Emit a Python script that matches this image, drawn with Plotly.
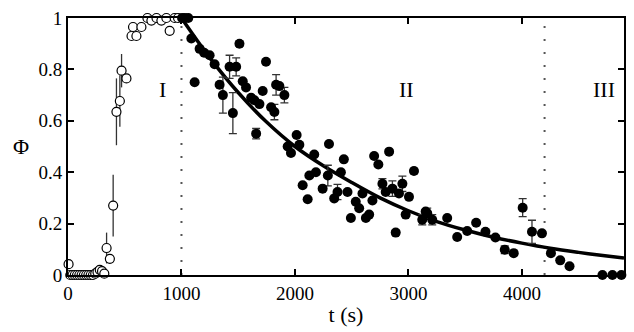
import plotly.graph_objects as go

# ---- data ----
open_t = [5, 20, 40, 60, 80, 100, 120, 140, 160, 180, 200, 220, 240, 260, 280, 300, 320,
          340, 369, 398, 427, 457, 472, 515, 560, 573, 603, 647, 700, 735, 780, 823, 867, 896, 940, 970]
open_phi = [0.042, 0.0, 0.0, 0.0, 0.0, 0.0, 0.0, 0.0, 0.0, 0.0, 0.0, 0.0, 0.005, 0.012, 0.02, 0.015, 0.005,
            0.105, 0.063, 0.27, 0.635, 0.677, 0.795, 0.765, 0.93, 0.965, 0.93, 0.965, 1.0, 0.99, 1.0, 0.99, 1.0, 0.95, 1.0, 1.0]
open_err = [0, 0, 0, 0, 0, 0, 0, 0, 0, 0, 0, 0, 0, 0, 0, 0, 0,
            0.06, 0, 0.12, 0.13, 0.10, 0.065, 0, 0, 0, 0, 0, 0, 0, 0, 0, 0, 0, 0, 0]

fill_t = [1005, 1030, 1060, 1087, 1116, 1160, 1200, 1248, 1292, 1336, 1365, 1424, 1453, 1482, 1511,
          1540, 1569, 1614, 1643, 1658, 1687, 1716, 1745, 1790, 1819, 1834, 1863, 1907, 1936, 1965,
          2015, 2039, 2068, 2112, 2127, 2170, 2185, 2244, 2290, 2300, 2346, 2375, 2405, 2431, 2463,
          2493, 2536, 2566, 2595, 2625, 2654, 2683, 2698, 2735, 2771, 2800, 2830, 2859, 2888, 2917,
          2947, 2976, 3005, 3049, 3122, 3152, 3166, 3210, 3342, 3430, 3518, 3597, 3679, 3767, 3849,
          3928, 4007, 4089, 4177, 4256, 4338, 4420, 4710, 4798, 4877]
fill_phi = [1.0, 1.0, 1.0, 0.92, 0.75, 0.88, 0.865, 0.855, 0.82, 0.74, 0.70, 0.81, 0.63, 0.81, 0.90,
            0.754, 0.73, 0.69, 0.68, 0.55, 0.665, 0.716, 0.83, 0.653, 0.634, 0.74, 0.735, 0.70, 0.50, 0.475,
            0.545, 0.507, 0.349, 0.295, 0.387, 0.469, 0.40, 0.336, 0.387, 0.51, 0.298, 0.323, 0.40, 0.45, 0.323,
            0.222, 0.285, 0.26, 0.317, 0.222, 0.235, 0.29, 0.463, 0.43, 0.355, 0.323, 0.48, 0.336, 0.165, 0.317,
            0.355, 0.235, 0.304, 0.405, 0.215, 0.247, 0.24, 0.215, 0.222, 0.148, 0.171, 0.203, 0.168, 0.146, 0.098,
            0.085, 0.262, 0.168, 0.162, 0.085, 0.057, 0.034, 0.0, 0.0, 0.0]
fill_err = [0, 0, 0, 0, 0, 0, 0, 0, 0, 0, 0.07, 0.045, 0.08, 0.035, 0.01,
            0, 0, 0, 0, 0.02, 0, 0, 0, 0, 0.03, 0.04, 0, 0.03, 0, 0,
            0, 0, 0, 0, 0, 0, 0, 0, 0.04, 0, 0, 0.03, 0, 0, 0,
            0, 0, 0, 0, 0, 0, 0, 0, 0, 0.02, 0, 0, 0.03, 0.01, 0,
            0.03, 0, 0, 0.01, 0.02, 0, 0.02, 0.02, 0, 0, 0, 0, 0, 0, 0.015,
            0, 0.035, 0.045, 0, 0, 0, 0, 0, 0, 0]

fit_t = [1000, 1250, 1500, 1750, 2000, 2250, 2500, 2750, 3000, 3250, 3500, 3750, 4000, 4250, 4500, 4750, 4900]
fit_phi = [1.0, 0.845, 0.71, 0.595, 0.50, 0.425, 0.36, 0.30, 0.25, 0.208, 0.175, 0.147, 0.124, 0.104, 0.088, 0.074, 0.066]

region_bounds = [1000, 4200]
region_labels = ["I", "II", "III"]
region_label_t = [835, 2980, 4720]
region_label_phi = 0.72

x_ticks = [0, 1000, 2000, 3000, 4000]
y_ticks = [0, 0.2, 0.4, 0.6, 0.8, 1]
y_ticktext = ["0", "0.2", "0.4", "0.6", "0.8", "1"]

SERIF = "Liberation Serif, Times New Roman, serif"

fig = go.Figure()

fig.add_trace(go.Scatter(
    x=fit_t, y=fit_phi, mode="lines", line=dict(color="black", width=3.5, shape="spline"),
    hoverinfo="skip", showlegend=False))

fig.add_trace(go.Scatter(
    x=open_t, y=open_phi, mode="markers",
    marker=dict(symbol="circle", size=9, color="white", line=dict(color="black", width=1.2)),
    error_y=dict(type="data", array=open_err, visible=True, color="#333333", thickness=1.3, width=0),
    cliponaxis=False, showlegend=False))

fig.add_trace(go.Scatter(
    x=fill_t, y=fill_phi, mode="markers",
    marker=dict(symbol="circle", size=10, color="black", line=dict(width=0)),
    error_y=dict(type="data", array=fill_err, visible=True, color="#333333", thickness=1.3, width=4),
    cliponaxis=False, showlegend=False))

for b in region_bounds:
    fig.add_shape(type="line", xref="x", yref="y", x0=b, x1=b, y0=0, y1=1,
                  line=dict(color="#555555", width=2, dash="2px,11px"), layer="below")

for lab, lt in zip(region_labels, region_label_t):
    fig.add_annotation(x=lt, y=region_label_phi, text=lab, showarrow=False,
                       font=dict(family=SERIF, size=22, color="black"))

fig.add_annotation(xref="paper", yref="paper", x=-0.085, y=0.5, text="Φ", showarrow=False,
                   xanchor="center", yanchor="middle",
                   font=dict(family=SERIF, size=22, color="black"))

fig.update_layout(
    width=634, height=332,
    margin=dict(l=68, r=8, t=12, b=57),
    paper_bgcolor="white", plot_bgcolor="white",
    font=dict(family=SERIF, size=19, color="black"),
    xaxis=dict(range=[0, 4900], tickvals=x_ticks, ticks="inside", ticklen=6, tickwidth=1.5,
               tickcolor="black", showline=True, linewidth=2, linecolor="black", mirror="ticks",
               showgrid=False, zeroline=False,
               title=dict(text="t (s)", font=dict(family=SERIF, size=22), standoff=4)),
    yaxis=dict(range=[0, 1], tickvals=y_ticks, ticktext=y_ticktext, ticks="inside", ticklen=6,
               tickwidth=1.5, tickcolor="black", showline=True, linewidth=2, linecolor="black",
               mirror="ticks", showgrid=False, zeroline=False),
)

fig.write_html("out.html")
